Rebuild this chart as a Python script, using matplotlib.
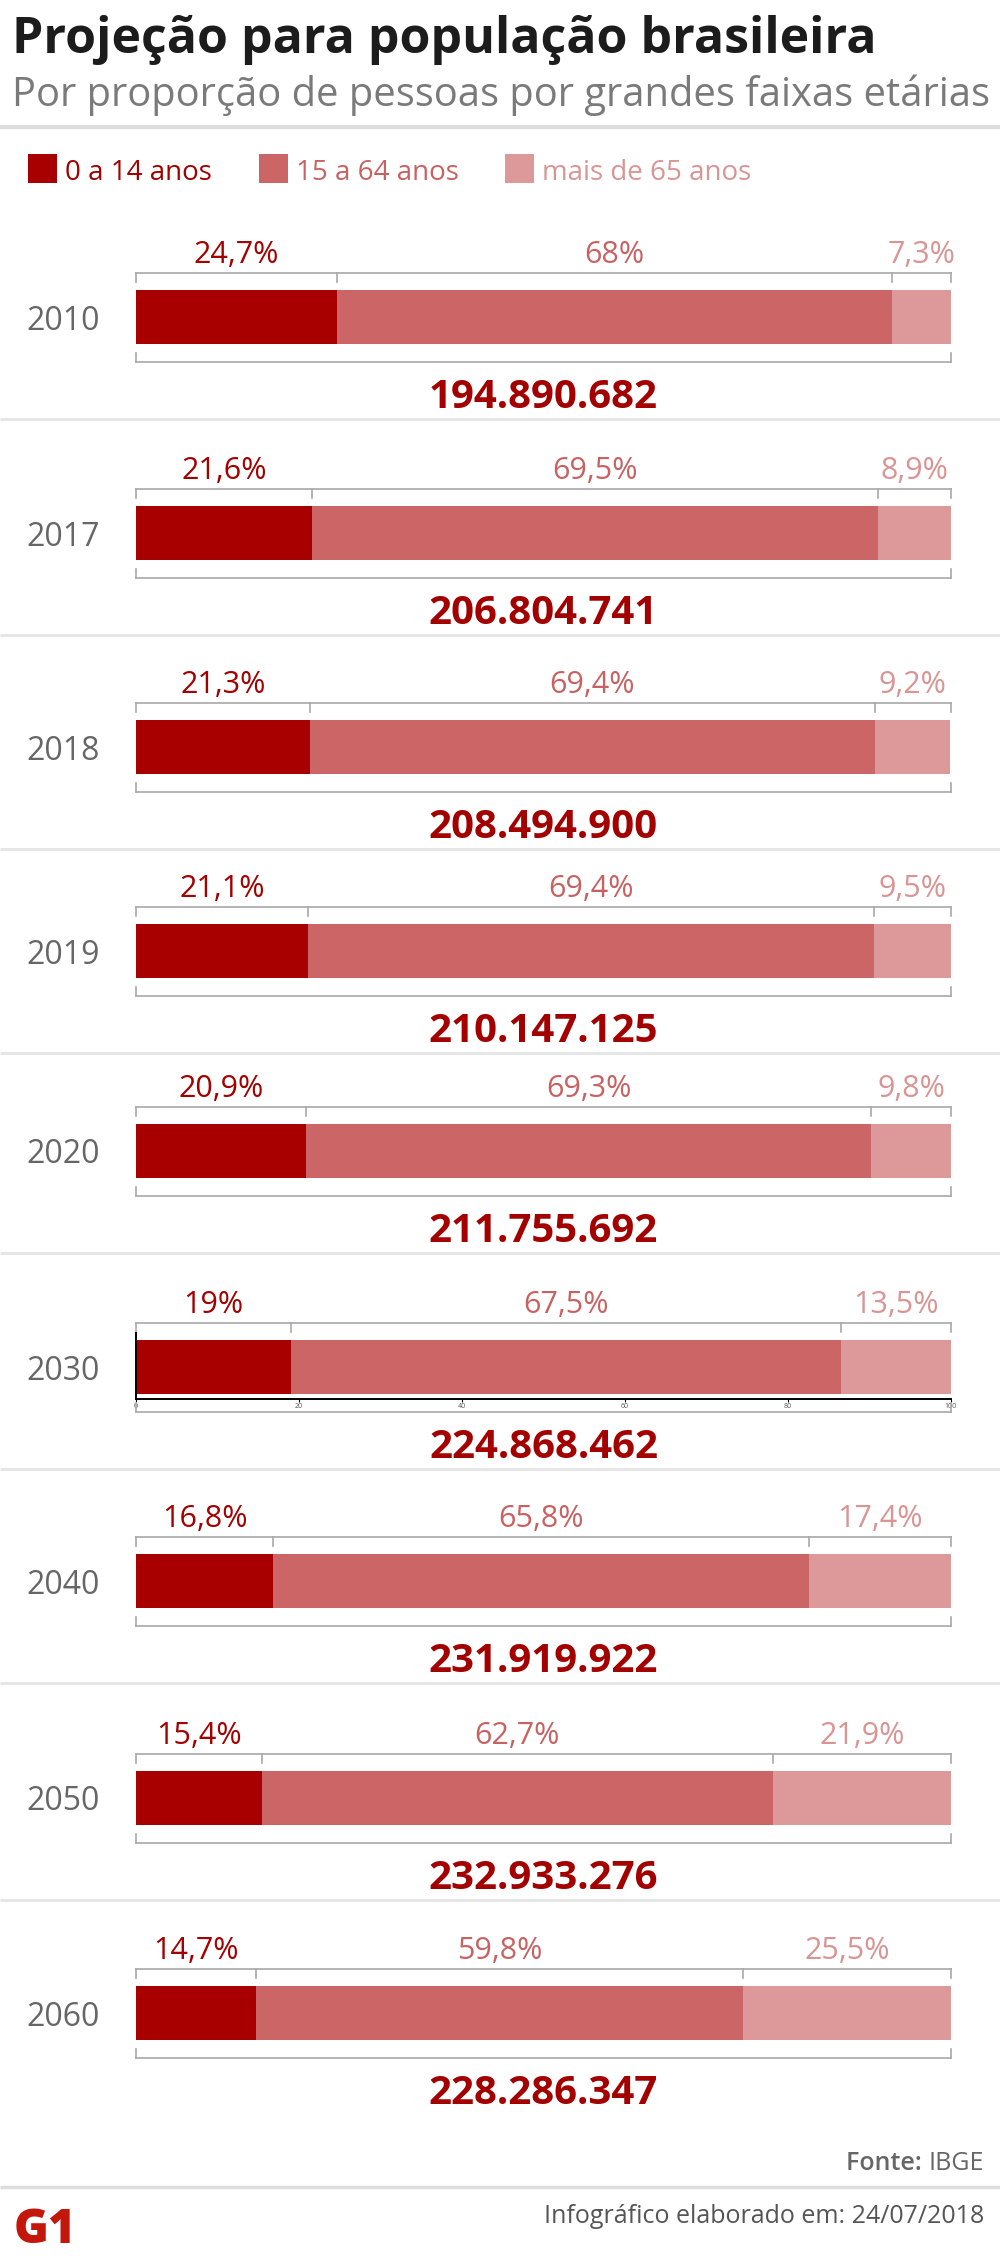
import matplotlib
matplotlib.use("Agg")
import matplotlib.pyplot as plt
from matplotlib.patches import Rectangle

plt.rcParams['font.family'] = ['Open Sans', 'DejaVu Sans']

# dados (IBGE)
years = ['2010', '2017', '2018', '2019', '2020', '2030', '2040', '2050', '2060']
pct_0_14 = [24.7, 21.6, 21.3, 21.1, 20.9, 19.0, 16.8, 15.4, 14.7]
pct_15_64 = [68.0, 69.5, 69.4, 69.4, 69.3, 67.5, 65.8, 62.7, 59.8]
pct_65 = [7.3, 8.9, 9.2, 9.5, 9.8, 13.5, 17.4, 21.9, 25.5]
totals = [194890682, 206804741, 208494900, 210147125, 211755692,
          224868462, 231919922, 232933276, 228286347]
group_names = ['0 a 14 anos', '15 a 64 anos', 'mais de 65 anos']

colors = ['#a80000', '#cc6666', '#dd9999']
text_colors = ['#a30000', '#c86262', '#d99494']
bracket_col = '#a8a8a8'
sep_col = '#e6e6e6'

# layout in pixels (figure 1000 x 2264)
W, H = 1000, 2264
bar_tops = [290, 506, 720, 924, 1124, 1340, 1554, 1771, 1986]
x_left, x_right = 136, 951


def pct_fmt(v):
    return f"{v:g}".replace('.', ',') + '%'


def num_fmt(n):
    return f"{n:,}".replace(',', '.')


fig = plt.figure(figsize=(10, 22.64), dpi=100)
bg = fig.add_axes([0, 0, 1, 1])
bg.set_xlim(0, W)
bg.set_ylim(H, 0)
bg.axis('off')

# titulo
bg.text(12, 53, 'Projeção para população brasileira', fontsize=36,
        fontweight='bold', color='#1c1c1c', va='baseline')
bg.text(12, 106, 'Por proporção de pessoas por grandes faixas etárias',
        fontsize=28.7, color='#7a7a7a', va='baseline')
bg.plot([0, W], [127, 127], color='#dddddd', lw=3, solid_capstyle='butt')

# legenda
leg_sq = [28, 259, 505]
for i, name in enumerate(group_names):
    bg.add_patch(Rectangle((leg_sq[i], 154), 29, 29, color=colors[i], lw=0))
    bg.text(leg_sq[i] + 37, 180, name, fontsize=20, color=text_colors[i],
            va='baseline')

# uma linha (axes) por ano
for i, year in enumerate(years):
    top = bar_tops[i] - 17
    h = 89
    ax = fig.add_axes([x_left / W, 1 - (top + h) / H,
                       (x_right - x_left) / W, h / H])
    ax.set_xlim(0, 100)
    ax.set_ylim(h, 0)
    vals = [pct_0_14[i], pct_15_64[i], pct_65[i]]
    left = 0
    bounds = [0]
    for j, v in enumerate(vals):
        ax.barh(44, v, left=left, height=54, color=colors[j], lw=0)
        ax.text(left + v / 2, -10, pct_fmt(v), ha='center', va='baseline',
                fontsize=22, color=text_colors[j])
        left += v
        bounds.append(left)
    bounds[-1] = 100

    # chaves acima e abaixo da barra
    ax.plot([0, 100], [0, 0], color=bracket_col, lw=1.2, clip_on=False)
    for b in bounds:
        ax.plot([b, b], [0, 9], color=bracket_col, lw=1.2, clip_on=False)
    ax.plot([0, 100], [h, h], color=bracket_col, lw=1.2, clip_on=False)
    for b in (0, 100):
        ax.plot([b, b], [h - 9, h], color=bracket_col, lw=1.2, clip_on=False)

    ax.text(50, h + 46, num_fmt(totals[i]), ha='center', va='baseline',
            fontsize=29, fontweight='bold', color='#a30000')

    ax.set_yticks([44])
    ax.set_yticklabels([year], fontsize=23, color='#666666')
    ax.tick_params(axis='y', length=0, pad=26)
    for s in ax.spines.values():
        s.set_visible(False)

    if year == '2030':
        # eixo que sobrou no original
        ax.spines['bottom'].set_visible(True)
        ax.spines['bottom'].set_position(('data', 76))
        ax.spines['bottom'].set_linewidth(1.4)
        ax.spines['left'].set_visible(True)
        ax.spines['left'].set_bounds(10, 76)
        ax.spines['left'].set_linewidth(1.4)
        ax.set_xticks([0, 20, 40, 60, 80, 100])
        ax.tick_params(axis='x', length=2, labelsize=5, pad=1,
                       labelcolor='#555555')
    else:
        ax.set_xticks([])

    sep = bar_tops[i] + 129
    if i < len(years) - 1:
        bg.plot([0, W], [sep, sep], color=sep_col, lw=2.2,
                solid_capstyle='butt')

# rodape
ibge = bg.text(984, 2170, 'IBGE', fontsize=18, color='#666666',
               ha='right', va='baseline')
bg.annotate('Fonte: ', xy=(0, 0), xycoords=ibge, ha='right', va='bottom',
            fontsize=18, fontweight='semibold', color='#666666')
bg.plot([0, W], [2187, 2187], color='#dddddd', lw=2.5, solid_capstyle='butt')
bg.text(984, 2223, 'Infográfico elaborado em: 24/07/2018', fontsize=18,
        color='#555555', ha='right', va='baseline')
bg.text(14, 2243, 'G1', fontsize=34, fontweight='heavy', color='#c4170c',
        va='baseline')

fig.savefig('out.png', dpi=100, facecolor='white')
